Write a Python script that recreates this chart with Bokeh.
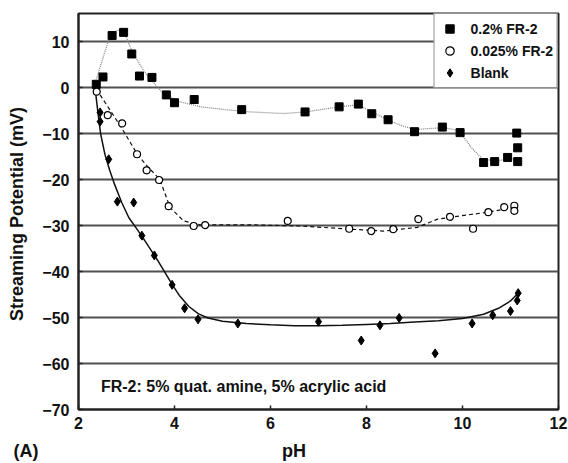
import math
from bokeh.plotting import figure
from bokeh.models import Range1d, FixedTicker, Legend, LegendItem, Label, LinearAxis
from bokeh.embed import file_html
from bokeh.resources import INLINE

# ---- data ----
sq_ph = [2.37, 2.51, 2.70, 2.94, 3.11, 3.27, 3.53, 3.83, 4.00, 4.41, 5.40, 6.72, 7.43, 7.83,
         8.11, 8.45, 9.00, 9.58, 9.95, 10.44, 10.67, 10.94, 11.13, 11.15, 11.15]
sq_mv = [0.7, 2.3, 11.3, 12.0, 7.3, 2.5, 2.2, -1.6, -3.3, -2.6, -4.8, -5.3, -4.2, -3.6,
         -5.7, -7.0, -9.6, -8.6, -9.8, -16.3, -16.1, -15.2, -9.9, -13.1, -16.1]

ci_ph = [2.38, 2.61, 2.91, 3.22, 3.42, 3.68, 3.88, 4.40, 4.64, 6.36, 7.64, 8.10, 8.56, 9.08,
         9.74, 10.22, 10.54, 10.87, 11.08, 11.08]
ci_mv = [-0.9, -6.0, -7.8, -14.5, -18.0, -20.1, -25.8, -30.1, -29.9, -29.0, -30.7, -31.2, -30.8,
         -28.6, -28.1, -30.7, -27.1, -26.0, -25.7, -26.8]

bl_ph = [2.45, 2.45, 2.63, 2.81, 3.15, 3.32, 3.58, 3.95, 4.21, 4.49, 5.32, 7.00, 7.89, 8.28,
         8.68, 9.43, 10.20, 10.63, 11.00, 11.14, 11.16]
bl_mv = [-5.4, -7.4, -15.6, -24.8, -25.0, -32.2, -36.5, -42.9, -48.0, -50.4, -51.3, -50.9, -55.0,
         -51.7, -50.1, -57.8, -51.3, -49.5, -48.6, -46.3, -44.7]

# fitted curves
sq_fit_ph = [2.33, 2.42, 2.52, 2.62, 2.72, 2.84, 2.97, 3.11, 3.36, 3.71, 4.05, 4.54, 5.10, 5.58,
             6.28, 6.73, 7.43, 7.81, 8.09, 8.44, 8.79, 9.06, 9.62, 9.93, 10.18, 10.42, 10.70, 11.15]
sq_fit_mv = [0.3, 3.5, 6.8, 10.0, 12.0, 12.5, 11.6, 8.0, 3.6, -0.7, -2.9, -4.2, -4.85, -5.3,
             -5.65, -5.3, -4.2, -3.75, -5.1, -7.1, -8.5, -9.1, -8.7, -9.4, -13.0, -15.6, -15.9, -15.4]

ci_fit_ph = [2.37, 2.60, 2.90, 3.23, 3.45, 3.69, 3.91, 4.19, 4.54, 5.58, 6.63, 7.67, 8.37, 9.06,
             9.48, 10.45, 11.08]
ci_fit_mv = [-0.3, -4.0, -8.8, -14.6, -17.3, -19.9, -26.1, -29.0, -29.85, -29.85, -30.1, -30.8,
             -31.2, -30.4, -28.6, -27.2, -26.1]

bl_fit_ph = [2.35, 2.40, 2.46, 2.55, 2.65, 2.75, 2.90, 3.05, 3.20, 3.35, 3.50, 3.65, 3.80, 3.95,
             4.10, 4.30, 4.50, 4.70, 5.00, 5.50, 6.00, 6.50, 7.00, 7.50, 8.00, 8.50, 9.00, 9.50,
             10.00, 10.44, 10.75, 11.00, 11.15]
bl_fit_mv = [-0.5, -5.0, -10.0, -14.5, -18.0, -21.0, -25.0, -28.3, -30.5, -32.8, -35.2, -37.6,
             -40.2, -42.8, -45.2, -47.6, -49.2, -50.1, -50.8, -51.3, -51.6, -51.8, -51.8, -51.7,
             -51.5, -51.3, -51.0, -50.7, -50.2, -49.3, -48.0, -46.4, -44.8]

x_ticks = [2, 4, 6, 8, 10, 12]
y_ticks = [-70, -60, -50, -40, -30, -20, -10, 0, 10]
series_labels = ["0.2% FR-2", "0.025% FR-2", "Blank"]
note_text = "FR-2: 5% quat. amine, 5% acrylic acid"
x_title = "pH"
y_title = "Streaming Potential  (mV)"
panel_tag = "(A)"

FONT = "Liberation Sans"

p = figure(width=568, height=463, output_backend="svg", toolbar_location=None,
           x_range=Range1d(2, 12), y_range=Range1d(-70, 16.1),
           min_border_left=78, min_border_right=10, min_border_top=13, min_border_bottom=54)
p.background_fill_color = "white"
p.border_fill_color = "white"
p.outline_line_color = "#222222"
p.outline_line_width = 2

# grid
p.xgrid.grid_line_color = None
p.ygrid.ticker = FixedTicker(ticks=y_ticks)
p.ygrid.grid_line_color = "#505050"
p.ygrid.grid_line_width = 1.8

# axes
for ax in (p.xaxis[0], p.yaxis[0]):
    ax.axis_line_color = "#222222"
    ax.axis_line_width = 2
    ax.major_tick_in = 4
    ax.major_tick_out = 0
    ax.minor_tick_line_color = None
    ax.major_tick_line_color = "#222222"
    ax.major_tick_line_width = 1.5
    ax.major_label_text_font = FONT
    ax.major_label_text_font_style = "bold"
    ax.major_label_text_font_size = "16px"
    ax.major_label_text_color = "#111111"
    ax.major_label_standoff = 9
p.xaxis.major_label_standoff = 7
p.xaxis.ticker = FixedTicker(ticks=x_ticks)
p.yaxis.ticker = FixedTicker(ticks=y_ticks)
p.yaxis.axis_label = y_title
p.yaxis.axis_label_text_font = FONT
p.yaxis.axis_label_text_font_style = "bold"
p.yaxis.axis_label_text_font_size = "18px"
p.yaxis.axis_label_text_color = "#111111"
p.yaxis.axis_label_standoff = 12

# second (label-only) axis below: carries the panel tag and the x title on one line
# (labels are centred on their ticks; the tag is padded so it sits left of the frame)
pad = "\u00a0" * 21 + "\u200b"
lab_axis = LinearAxis(ticker=FixedTicker(ticks=[2, 6.49]),
                      major_label_overrides={2: panel_tag + pad, 6.49: x_title})
lab_axis.axis_line_color = None
lab_axis.major_tick_line_color = None
lab_axis.minor_tick_line_color = None
lab_axis.major_tick_in = 0
lab_axis.major_tick_out = 0
lab_axis.major_label_standoff = 9
lab_axis.major_label_text_font = FONT
lab_axis.major_label_text_font_style = "bold"
lab_axis.major_label_text_font_size = "18px"
lab_axis.major_label_text_color = "#111111"
p.add_layout(lab_axis, "below")

# fitted curves
p.line(sq_fit_ph, sq_fit_mv, line_color="#888888", line_width=1.3, line_dash="1 1")
p.line(ci_fit_ph, ci_fit_mv, line_color="#111111", line_width=1.2, line_dash="4 3")
p.line(bl_fit_ph, bl_fit_mv, line_color="#111111", line_width=1.5)

# points
r_sq = p.scatter(sq_ph, sq_mv, marker="square", size=8, fill_color="black", line_color="black")
r_ci = p.scatter(ci_ph, ci_mv, marker="circle", size=7, fill_color="white", line_color="black",
                 line_width=1.2)
r_bl = p.scatter(bl_ph, bl_mv, marker="diamond", size=9, fill_color="black", line_color="black")

legend = Legend(items=[LegendItem(label=series_labels[0], renderers=[r_sq]),
                       LegendItem(label=series_labels[1], renderers=[r_ci]),
                       LegendItem(label=series_labels[2], renderers=[r_bl])],
                location="top_right", margin=0, padding=4, spacing=1,
                label_height=21, glyph_height=21, glyph_width=22, label_standoff=10,
                label_text_font=FONT, label_text_font_style="bold", label_text_font_size="14px",
                label_text_color="#111111",
                border_line_color="#222222", border_line_width=1.2,
                background_fill_color="white", background_fill_alpha=1.0)
p.add_layout(legend)

p.add_layout(Label(x=2.467, y=-64.93, text=note_text, text_font=FONT, text_font_style="bold",
                   text_font_size="16px", text_color="#111111", text_baseline="alphabetic"))

open("out.html", "w").write(file_html(p, INLINE))
